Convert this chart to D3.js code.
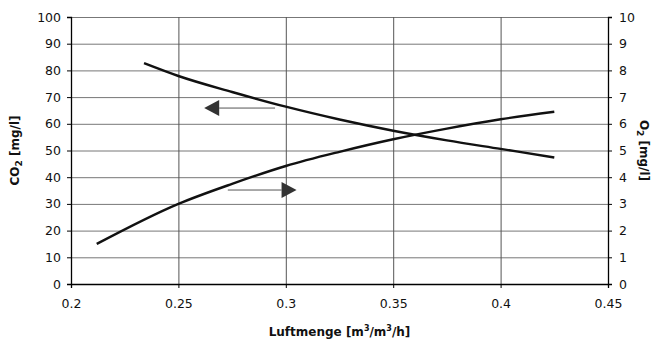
<html lang="de">
<head>
    <meta charset="UTF-8"/>
    <title>CO2 / O2 vs Luftmenge</title>
    <script src="https://d3js.org/d3.v7.min.js"></script>
    <style>
        body { margin: 0; background: #fff; }
        text { font-family: "DejaVu Sans", sans-serif; fill: #111; }
    </style>
</head>
<body>
    <script>
        // Luftmenge values and readings
        var co2X = [0.234, 0.25, 0.275, 0.3, 0.325, 0.35, 0.375, 0.4, 0.425];
        var co2Y = [82.7, 77.9, 71.9, 66.4, 61.6, 57.4, 53.8, 50.6, 47.4];
        var o2X = [0.212, 0.25, 0.275, 0.3, 0.325, 0.35, 0.375, 0.4, 0.425];
        var o2Y = [1.5, 3.0, 3.75, 4.42, 4.95, 5.42, 5.82, 6.17, 6.45];
        var xTicks = [0.2, 0.25, 0.3, 0.35, 0.4, 0.45];
        var co2Ticks = [0, 10, 20, 30, 40, 50, 60, 70, 80, 90, 100];
        var o2Ticks = [0, 1, 2, 3, 4, 5, 6, 7, 8, 9, 10];
        // arrows: [tail x, tip x, value on own axis]
        var co2Arrow = [0.295, 0.262, 65.9];
        var o2Arrow = [0.273, 0.305, 3.52];

        var w = 653, h = 345;
        var padL = 71, padR = 608, padT = 17, padB = 284;

        var svg = d3.select("body").append("svg")
            .attr("width", w)
            .attr("height", h);

        var xScale = d3.scaleLinear().domain([0.2, 0.45]).range([padL, padR]);
        var yLeft = d3.scaleLinear().domain([0, 100]).range([padB, padT]);
        var yRight = d3.scaleLinear().domain([0, 10]).range([padB, padT]);

        // grid
        svg.append("g").selectAll("line")
            .data(co2Ticks.slice(1))
            .enter().append("line")
            .attr("x1", padL).attr("x2", padR)
            .attr("y1", function(d){ return yLeft(d) + 0.5; })
            .attr("y2", function(d){ return yLeft(d) + 0.5; })
            .attr("stroke", "#777").attr("stroke-width", 1);

        svg.append("g").selectAll("line")
            .data(xTicks.slice(1, -1))
            .enter().append("line")
            .attr("x1", function(d){ return xScale(d) + 0.5; })
            .attr("x2", function(d){ return xScale(d) + 0.5; })
            .attr("y1", padT).attr("y2", padB)
            .attr("stroke", "#555").attr("stroke-width", 1);

        // axes
        var xAxis = d3.axisBottom(xScale).tickValues(xTicks)
            .tickSize(4).tickPadding(11).tickFormat(d3.format(""));
        var gx = svg.append("g").attr("transform", "translate(0," + padB + ")").call(xAxis);

        var gl = svg.append("g").attr("transform", "translate(" + padL + ",0)")
            .call(d3.axisLeft(yLeft).tickValues(co2Ticks).tickSize(4).tickPadding(6));

        var gr = svg.append("g").attr("transform", "translate(" + padR + ",0)")
            .call(d3.axisRight(yRight).tickValues(o2Ticks).tickSize(4).tickPadding(7));

        [gx, gl, gr].forEach(function(g){
            g.select(".domain").attr("stroke", "#000").attr("stroke-width", 1.3);
            g.selectAll(".tick line").attr("stroke", "#000");
            g.selectAll(".tick text").attr("font-size", 12.5)
                .attr("font-family", "DejaVu Sans").attr("fill", "#111");
        });

        // curves
        var line = d3.line().curve(d3.curveMonotoneX);
        svg.append("path")
            .attr("d", line(co2X.map(function(x, i){ return [xScale(x), yLeft(co2Y[i])]; })))
            .attr("fill", "none").attr("stroke", "#111").attr("stroke-width", 2.4);
        svg.append("path")
            .attr("d", line(o2X.map(function(x, i){ return [xScale(x), yRight(o2Y[i])]; })))
            .attr("fill", "none").attr("stroke", "#111").attr("stroke-width", 2.4);

        // arrows
        function arrow(a, yS){
            var x0 = xScale(a[0]), x1 = xScale(a[1]), y = yS(a[2]);
            var dir = x1 < x0 ? 1 : -1;
            var base = x1 + dir * 15;
            svg.append("line")
                .attr("x1", x0).attr("x2", base).attr("y1", y).attr("y2", y)
                .attr("stroke", "#555").attr("stroke-width", 1);
            svg.append("path")
                .attr("d", "M" + x1 + "," + y + "L" + base + "," + (y - 8) + "L" + base + "," + (y + 8) + "Z")
                .attr("fill", "#333");
        }
        arrow(co2Arrow, yLeft);
        arrow(o2Arrow, yRight);

        // axis titles
        svg.append("text")
            .attr("transform", "translate(19," + (padT + padB) / 2 + ") rotate(-90)")
            .attr("text-anchor", "middle").attr("font-size", 12).attr("font-weight", "bold")
            .html('CO<tspan font-size="9" dy="3">2</tspan><tspan dy="-3"> [mg/l]</tspan>');

        svg.append("text")
            .attr("transform", "translate(640," + (padT + padB) / 2 + ") rotate(90)")
            .attr("text-anchor", "middle").attr("font-size", 12).attr("font-weight", "bold")
            .html('O<tspan font-size="9" dy="3">2</tspan><tspan dy="-3"> [mg/l]</tspan>');

        svg.append("text")
            .attr("x", (padL + padR) / 2).attr("y", 336)
            .attr("text-anchor", "middle").attr("font-size", 12).attr("font-weight", "bold")
            .html('Luftmenge [m<tspan font-size="8" dy="-5">3</tspan><tspan dy="5">/m</tspan><tspan font-size="8" dy="-5">3</tspan><tspan dy="5">/h]</tspan>');
    </script>
</body>
</html>
